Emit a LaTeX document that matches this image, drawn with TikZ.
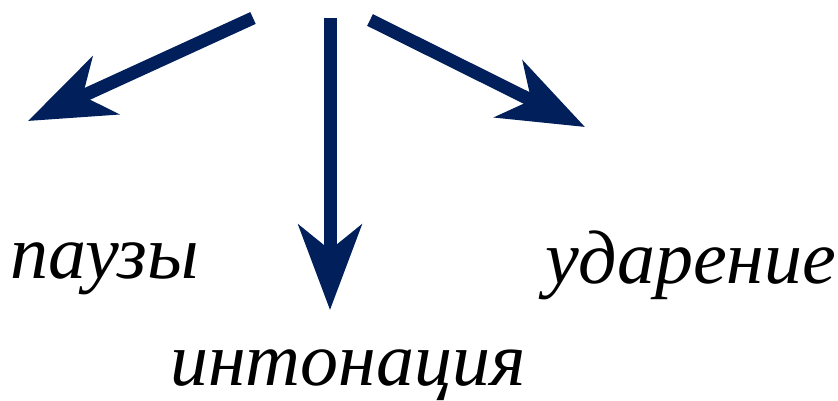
\documentclass[tikz,border=0pt]{standalone}
\usepackage{fontspec}
\setmainfont{Liberation Serif}
\usetikzlibrary{arrows.meta}
\definecolor{navy}{RGB}{0,31,91}
\tikzset{
  bigarrow/.style={draw=navy, line width=13pt,
    -{Stealth[length=85pt, width=63pt, inset=25pt, fill=navy]}},
  word/.style={font=\fontsize{76}{86}\selectfont\itshape, inner sep=0pt, anchor=base west}
}
\begin{document}
\begin{tikzpicture}[x=1pt,y=-1pt]
\useasboundingbox (0,0) rectangle (838,401);
\coordinate (sL) at (253,18);
\coordinate (tL) at (28,121);
\coordinate (sM) at (330,18);
\coordinate (tM) at (330,310);
\coordinate (sR) at (370,20);
\coordinate (tR) at (585,127);
\draw[bigarrow] (sL) -- (tL);
\draw[bigarrow] (sM) -- (tM);
\draw[bigarrow] (sR) -- (tR);
\node[word] (p) at (10,278) {паузы};
\node[word] (u) at (545,283) {ударение};
\node[word] (i) at (170,385) {интонация};
\end{tikzpicture}
\end{document}
